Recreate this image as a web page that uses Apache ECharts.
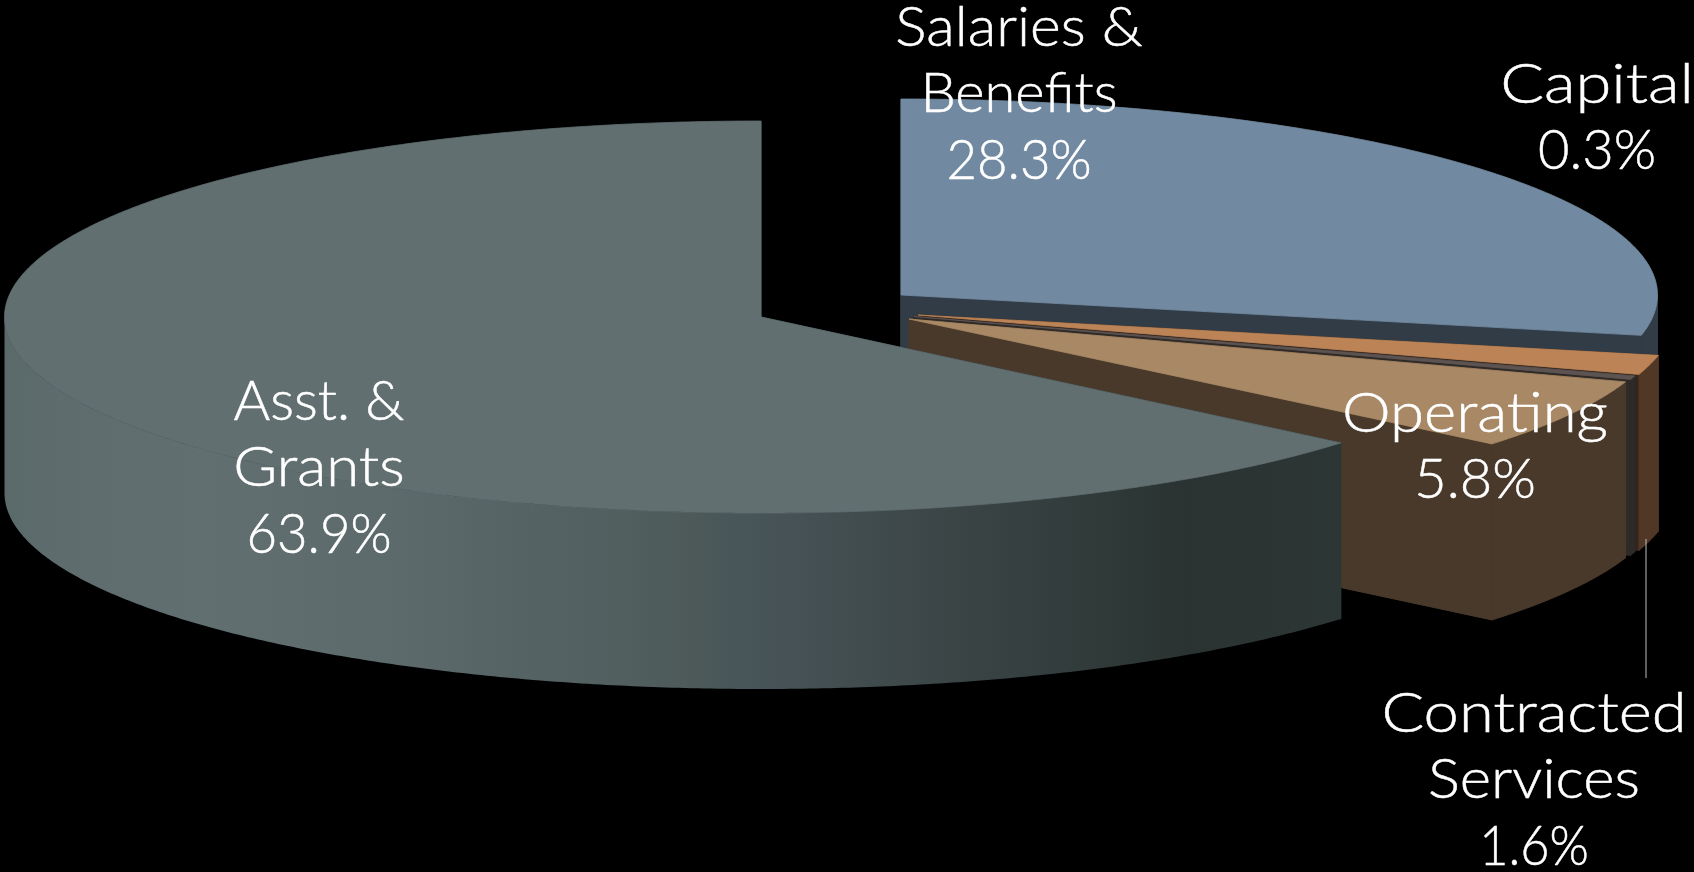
<!DOCTYPE html>
<html>
<head>
<meta charset="utf-8">
<title>Expenditures by category</title>
<style>
  html, body { margin: 0; padding: 0; background: #000; }
  #chart { width: 1694px; height: 872px; }
</style>
<script src="https://cdn.jsdelivr.net/npm/echarts@6/dist/echarts.min.js"></script>
</head>
<body>
<div id="chart"></div>
<script>
// Slices in clockwise order starting at twelve o'clock.
const categories = ['Salaries &\nBenefits', 'Contracted\nServices', 'Capital', 'Operating', 'Asst. &\nGrants'];
const shares = [28.3, 1.6, 0.3, 5.8, 63.9];

// Exploded slice centres on the top plane, in pixels.
const centers = [[901, 295], [918, 315], [914, 316.5], [909, 319], [761, 317]];
const radiusX = 756.5;
const radiusY = 196;
const depth = 176;

const topColors = ['#728aa1', '#bc8456', '#5d5350', '#a88865', '#616f71'];
const wallColors = ['#313c47', '#513725', '#2e2a28', '#49392b', null];
const cutColors = ['#313c47', '#33251d', '#2e2a28', '#49392b', '#2a3533'];

// Outer wall of the large slice darkens from left to right.
const grantsWallStops = [
  { offset: 0, color: '#5a696a' },
  { offset: 0.042, color: '#5e6c6e' },
  { offset: 0.146, color: '#616f71' },
  { offset: 0.296, color: '#5c6a6c' },
  { offset: 0.37, color: '#566466' },
  { offset: 0.46, color: '#515f5f' },
  { offset: 0.52, color: '#4c5958' },
  { offset: 0.55, color: '#48555a' },
  { offset: 0.594, color: '#455154' },
  { offset: 0.706, color: '#3b4546' },
  { offset: 0.82, color: '#2f3a39' },
  { offset: 0.88, color: '#2a3331' },
  { offset: 1, color: '#2c3635' }
];

// Label block centres and per-line horizontal stretch, same order as the slices.
const labelAnchors = [[1019, 94], [1534, 780], [1597, 118], [1475, 447], [319, 468]];
const labelStretch = [[1.05, 1.0, 0.94], [1.13, 1.07, 0.9], [1.16, 0.97], [1.1, 1.0], [1.0, 1.07, 0.94]];
const labelLineHeight = 66.5;
const labelLeader = [[1646, 539], [1646, 678]];

const DEG = Math.PI / 180;

// Angular span of each slice; the last slice closes the circle at twelve o'clock.
const spans = [];
let cursor = 0;
shares.forEach(function (share, i) {
  const sweep = share * 3.6;
  const start = i === shares.length - 1 ? 360 - sweep : cursor;
  spans.push([start, start + sweep]);
  cursor += sweep;
});

function rimPoint(center, angle, drop) {
  return [
    center[0] + radiusX * Math.sin(angle * DEG),
    center[1] - radiusY * Math.cos(angle * DEG) + drop
  ];
}

function arcPoints(center, from, to, drop) {
  const pts = [];
  const steps = Math.max(2, Math.ceil(Math.abs(to - from) * 2));
  for (let k = 0; k <= steps; k++) {
    pts.push(rimPoint(center, from + (to - from) * k / steps, drop));
  }
  return pts;
}

// A thin stroke in the fill colour closes antialiasing seams between faces.
function poly(points, fill, stroke, width) {
  return {
    type: 'polygon',
    shape: { points: points },
    style: { fill: fill, stroke: stroke, lineWidth: width }
  };
}

function cutFace(center, angle, fill) {
  const rim = rimPoint(center, angle, 0);
  return poly([
    center, rim,
    [rim[0], rim[1] + depth],
    [center[0], center[1] + depth]
  ], fill, fill, 1);
}

function renderSlice(params, api) {
  const i = api.value(0);
  const center = centers[i];
  const start = spans[i][0];
  const end = spans[i][1];
  const children = [];

  // Faces are painted back to front so nearer slices cover farther ones.
  children.push(cutFace(center, end, cutColors[i]));
  children.push(cutFace(center, start, cutColors[i]));

  const wallFrom = Math.max(start, 90);
  const wallTo = Math.min(end, 270);
  if (wallTo > wallFrom) {
    const upper = arcPoints(center, wallFrom, wallTo, 0);
    const lower = arcPoints(center, wallTo, wallFrom, depth);
    if (wallColors[i]) {
      children.push(poly(upper.concat(lower), wallColors[i], wallColors[i], 1));
    } else {
      children.push(poly(upper.concat(lower), {
        type: 'linear', x: 4, y: 0, x2: 1343, y2: 0, global: true,
        colorStops: grantsWallStops
      }, null, 0));
    }
  }

  children.push(poly([center].concat(arcPoints(center, start, end, 0)), topColors[i], topColors[i], 0.8));
  return { type: 'group', children: children };
}

function renderLabel(params, api) {
  const i = api.value(0);
  const lines = categories[i].split('\n').concat(shares[i].toFixed(1) + '%');
  const anchor = labelAnchors[i];
  return {
    type: 'group',
    children: lines.map(function (line, k) {
      return {
        type: 'text',
        x: anchor[0],
        y: anchor[1] + (k - (lines.length - 1) / 2) * labelLineHeight,
        scaleX: labelStretch[i][k],
        style: {
          text: line,
          fill: '#ffffff',
          stroke: '#ffffff',
          lineWidth: 0.5,
          font: '300 56px Lato',
          align: 'center',
          verticalAlign: 'middle'
        }
      };
    })
  };
}

function renderLeader() {
  return {
    type: 'line',
    shape: { x1: labelLeader[0][0], y1: labelLeader[0][1], x2: labelLeader[1][0], y2: labelLeader[1][1] },
    style: { stroke: '#bfbfbf', lineWidth: 1 }
  };
}

const chart = echarts.init(document.getElementById('chart'), null, { renderer: 'canvas' });
const rows = shares.map(function (s, i) { return [i, s]; });

chart.setOption({
  backgroundColor: '#000000',
  animation: false,
  series: [
    { type: 'custom', coordinateSystem: 'none', silent: true, z: 2, data: rows, renderItem: renderSlice },
    { type: 'custom', coordinateSystem: 'none', silent: true, z: 3, data: [[0]], renderItem: renderLeader },
    { type: 'custom', coordinateSystem: 'none', silent: true, z: 4, data: rows, renderItem: renderLabel }
  ]
});
</script>
</body>
</html>
